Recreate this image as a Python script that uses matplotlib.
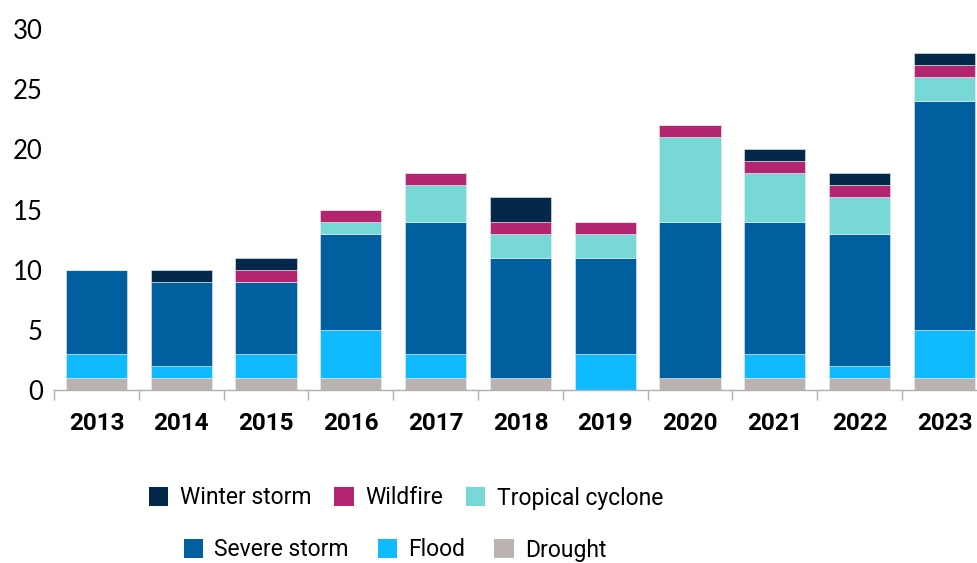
import matplotlib.pyplot as plt
import numpy as np
from matplotlib.patches import Patch
from matplotlib.ticker import FixedLocator

# 数据
years = ['2013', '2014', '2015', '2016', '2017', '2018', '2019', '2020', '2021', '2022', '2023']
drought = [1, 1, 1, 1, 1, 1, 0, 1, 1, 1, 1]
flood = [2, 1, 2, 4, 2, 0, 3, 0, 2, 1, 4]
severe_storm = [7, 7, 6, 8, 11, 10, 8, 13, 11, 11, 19]
tropical_cyclone = [0, 0, 0, 1, 3, 2, 2, 7, 4, 3, 2]
wildfire = [0, 0, 1, 1, 1, 1, 1, 1, 1, 1, 1]
winter_storm = [0, 1, 1, 0, 0, 2, 0, 0, 1, 1, 1]

series = [
    ('Drought', drought, '#bbb3b0'),
    ('Flood', flood, '#10baff'),
    ('Severe storm', severe_storm, '#005f9f'),
    ('Tropical cyclone', tropical_cyclone, '#78d8d6'),
    ('Wildfire', wildfire, '#b3266f'),
    ('Winter storm', winter_storm, '#04284a'),
]
colors = {name: c for name, _, c in series}

fig = plt.figure(figsize=(9.78, 5.63), dpi=100)
ax = fig.add_axes([54 / 978, 1 - 390 / 563, 11 * 84.8 / 978, 361 / 563])

x = np.arange(len(years))
bottom = np.zeros(len(years))
for name, vals, c in series:
    vals = np.array(vals, dtype=float)
    ax.bar(x, vals, width=0.72, bottom=bottom, color=c,
           edgecolor='#e8eef4', linewidth=0.4)
    bottom += vals

ax.set_xlim(-0.5, len(years) - 0.5)
ax.set_ylim(0, 30)
ax.set_yticks([0, 5, 10, 15, 20, 25, 30])
ax.set_xticks(x)
ax.set_xticklabels(years, fontfamily=['Roboto', 'DejaVu Sans'],
                   fontweight='bold', fontsize=17.5)
ax.xaxis.set_minor_locator(FixedLocator(np.arange(-0.5, len(years), 1)))
ax.tick_params(axis='x', which='major', length=0, pad=16)
ax.tick_params(axis='x', which='minor', length=7, color='#b0b0b0', width=1)
ax.tick_params(axis='y', length=0, pad=8, labelsize=18.5)
for lab in ax.get_yticklabels():
    lab.set_fontfamily(['Lato', 'DejaVu Sans'])

for s in ['top', 'right', 'left']:
    ax.spines[s].set_visible(False)
ax.spines['bottom'].set_color('#b0b0b0')
ax.spines['bottom'].set_linewidth(1)

# 图例，两行分别居中
row1 = ['Winter storm', 'Wildfire', 'Tropical cyclone']
row2 = ['Severe storm', 'Flood', 'Drought']
leg_font = {'family': ['Roboto', 'DejaVu Sans'], 'size': 16.5}
h1 = [Patch(facecolor=colors[n], edgecolor='none') for n in row1]
h2 = [Patch(facecolor=colors[n], edgecolor='none') for n in row2]
leg1 = fig.legend(h1, row1, loc='center', bbox_to_anchor=(406 / 978, 1 - 498 / 563),
                  ncol=3, frameon=False, prop=leg_font, handlelength=0.85, handleheight=0.85,
                  handletextpad=0.5, columnspacing=1.0)
leg2 = fig.legend(h2, row2, loc='center', bbox_to_anchor=(395 / 978, 1 - 550 / 563),
                  ncol=3, frameon=False, prop=leg_font, handlelength=0.85, handleheight=0.85,
                  handletextpad=0.5, columnspacing=1.25)

fig.savefig('out.png', dpi=100)
